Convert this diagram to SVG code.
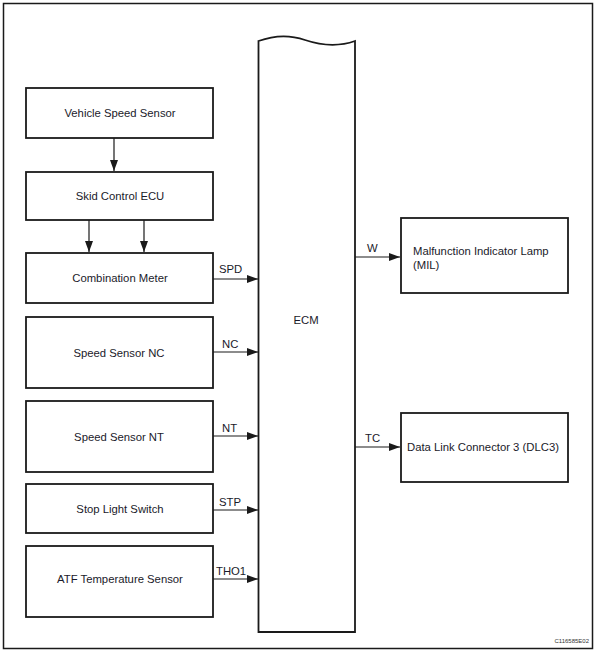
<svg xmlns="http://www.w3.org/2000/svg" width="598" height="652" viewBox="0 0 598 652">
<style>
.box{fill:#fff;stroke:#1a1a1a;stroke-width:1.8}
.t{font-family:"Liberation Sans",Arial,sans-serif;font-size:11.3px;fill:#1a1a2a}
.c{text-anchor:middle}
.ln{stroke:#1a1a1a;stroke-width:1.2;fill:none}
</style>
<defs>
<marker id="ah" markerWidth="12" markerHeight="10" refX="11" refY="4" orient="auto" markerUnits="userSpaceOnUse">
<path d="M0,0 L11,4 L0,8 Z" fill="#1a1a1a"/>
</marker>
</defs>
<rect x="0" y="0" width="598" height="652" fill="#fff"/>
<rect x="3.5" y="3.5" width="589" height="645" fill="none" stroke="#1a1a1a" stroke-width="1.5"/>
<g id="ecm">
<path class="box" d="M258.5,41 C272,36 288,34 305,40 C320,45 338,47 355,41 L355,632 L258.5,632 Z"/>
<text class="t c" x="306" y="324">ECM</text>
</g>
<g id="vss"><rect class="box" x="26" y="88" width="187" height="50"/><text class="t c" x="120" y="117">Vehicle Speed Sensor</text></g>
<g id="skid"><rect class="box" x="26" y="172" width="187" height="48"/><text class="t c" x="120" y="200">Skid Control ECU</text></g>
<g id="meter"><rect class="box" x="26" y="253" width="187" height="50"/><text class="t c" x="120" y="282">Combination Meter</text></g>
<g id="nc"><rect class="box" x="26" y="317" width="187" height="71"/><text class="t c" x="119" y="357">Speed Sensor NC</text></g>
<g id="nt"><rect class="box" x="26" y="401" width="187" height="71"/><text class="t c" x="119" y="441">Speed Sensor NT</text></g>
<g id="stop"><rect class="box" x="26" y="484" width="187" height="49"/><text class="t c" x="120" y="513">Stop Light Switch</text></g>
<g id="atf"><rect class="box" x="26" y="546" width="187" height="71"/><text class="t c" x="120" y="583">ATF Temperature Sensor</text></g>
<g id="mil"><rect class="box" x="401" y="218" width="167" height="75"/><text class="t" x="413" y="255">Malfunction Indicator Lamp</text><text class="t" x="413" y="269">(MIL)</text></g>
<g id="dlc3"><rect class="box" x="401" y="413" width="167" height="69"/><text class="t" x="407" y="451">Data Link Connector 3 (DLC3)</text></g>
<g id="connectors">
<line class="ln" x1="114" y1="138" x2="114" y2="171" marker-end="url(#ah)"/>
<line class="ln" x1="89" y1="220" x2="89" y2="252" marker-end="url(#ah)"/>
<line class="ln" x1="144" y1="220" x2="144" y2="252" marker-end="url(#ah)"/>
<line class="ln" x1="213" y1="279" x2="258" y2="279" marker-end="url(#ah)"/>
<line class="ln" x1="213" y1="352" x2="258" y2="352" marker-end="url(#ah)"/>
<line class="ln" x1="213" y1="436" x2="258" y2="436" marker-end="url(#ah)"/>
<line class="ln" x1="213" y1="510" x2="258" y2="510" marker-end="url(#ah)"/>
<line class="ln" x1="213" y1="579" x2="258" y2="579" marker-end="url(#ah)"/>
<line class="ln" x1="355" y1="257" x2="400" y2="257" marker-end="url(#ah)"/>
<line class="ln" x1="355" y1="447" x2="400" y2="447" marker-end="url(#ah)"/>
<text class="t" x="219" y="273">SPD</text>
<text class="t" x="222" y="348">NC</text>
<text class="t" x="222" y="432">NT</text>
<text class="t" x="219" y="506">STP</text>
<text class="t" x="216" y="575">THO1</text>
<text class="t" x="367" y="252">W</text>
<text class="t" x="365" y="442">TC</text>
</g>
<text x="589" y="643" font-family="'Liberation Sans',Arial,sans-serif" font-size="6" fill="#333" text-anchor="end">C116585E02</text>
</svg>
